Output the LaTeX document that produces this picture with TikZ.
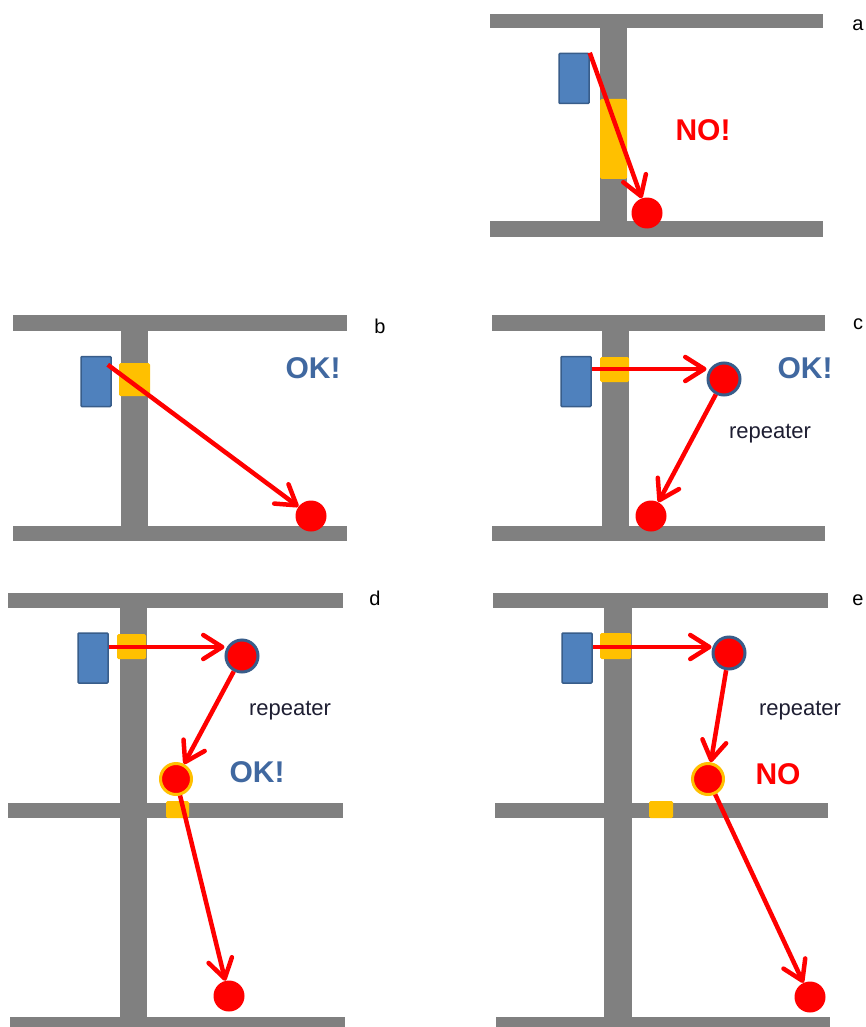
\documentclass[tikz,border=0pt]{standalone}
\usepackage{fontspec}
\setmainfont{Liberation Sans}
\usetikzlibrary{arrows.meta,calc}
\definecolor{wallgray}{RGB}{128,128,128}
\definecolor{patch}{RGB}{255,192,0}
\definecolor{devfill}{RGB}{79,129,189}
\definecolor{devedge}{RGB}{56,93,138}
\definecolor{okblue}{RGB}{64,104,160}
\definecolor{sigred}{RGB}{255,0,0}
\definecolor{reptext}{RGB}{30,30,50}
\begin{document}
\begin{tikzpicture}[x=1pt,y=-1pt,
 wall/.style={fill=wallgray},
 patchbox/.style={fill=patch, rounded corners=1.5pt},
 device/.style={rectangle, draw=devedge, fill=devfill, line width=1.5pt, minimum width=30pt, minimum height=50pt, inner sep=0pt, rounded corners=1pt},
 target/.style={circle, fill=sigred, minimum size=31pt, inner sep=0pt},
 repeaterdot/.style={circle, fill=sigred, draw=devedge, line width=3pt, minimum size=32pt, inner sep=0pt},
 relaydot/.style={circle, fill=sigred, draw=patch, line width=3pt, minimum size=31pt, inner sep=0pt},
 signal/.style={draw=sigred, line width=4.5pt, -{Straight Barb[length=19pt,width=24pt,round]}},
 verdictok/.style={font=\bfseries\fontsize{30}{30}\selectfont, text=okblue},
 verdictno/.style={font=\bfseries\fontsize{30}{30}\selectfont, text=sigred},
 reptag/.style={font=\fontsize{22}{22}\selectfont, text=reptext, anchor=base},
 paneltag/.style={font=\fontsize{20}{20}\selectfont, anchor=base},
]
\useasboundingbox[fill=white] (0,0) rectangle (866,1027);

% ---------- panel a ----------
\fill[wall] (490,14) rectangle (823,28);
\fill[wall] (600,28) rectangle (627,221);
\fill[wall] (490,221) rectangle (823,237);
\fill[patchbox] (600,99) rectangle (627,179);
\node[device] (da) at (574,78.5) {};
\node[target] (ta) at (647,213) {};
\draw[signal] (da.north east) -- (ta);
\node[verdictno] (va) at (703,130) {NO!};
\node[paneltag] (la) at (858,31) {a};

% ---------- panel b ----------
\fill[wall] (13,315) rectangle (347,331);
\fill[wall] (121,331) rectangle (148,526);
\fill[wall] (13,526) rectangle (347,541);
\fill[patchbox] (119,363) rectangle (150,396);
\node[device] (db) at (96,381.5) {};
\node[target] (tb) at (311,516) {};
\coordinate (sb) at ([xshift=-4pt,yshift=-9pt]db.north east);
\draw[signal] (sb) -- (tb);
\node[verdictok] (vb) at (313,368) {OK!};
\node[paneltag] (lb) at (380,333) {b};

% ---------- panel c ----------
\fill[wall] (492,315) rectangle (825,331);
\fill[wall] (602,331) rectangle (629,526);
\fill[wall] (492,526) rectangle (825,541);
\fill[patchbox] (600,357) rectangle (629,382);
\node[device] (dc) at (576,381.5) {};
\node[repeaterdot] (rc) at (724,379) {};
\node[target] (tc) at (651,516) {};
\coordinate (sc) at ([yshift=12.5pt]dc.east);
\draw[signal] (sc) -- (sc -| rc.west);
\draw[signal] (rc) -- (tc);
\node[verdictok] (vc) at (805,368) {OK!};
\node[reptag] (pc) at (770,438) {repeater};
\node[paneltag] (lc) at (858,329) {c};

% ---------- panel d ----------
\fill[wall] (8,593) rectangle (343,608);
\fill[wall] (120,608) rectangle (147,1017);
\fill[wall] (8,803) rectangle (343,818);
\fill[wall] (10,1017) rectangle (345,1027);
\fill[patchbox] (117,634) rectangle (146,659);
\fill[patchbox] (166,801) rectangle (189,818);
\node[device] (dd) at (93,658) {};
\node[repeaterdot] (rd) at (242,656) {};
\node[relaydot] (od) at (176,779) {};
\node[target] (td) at (229,996) {};
\coordinate (sd) at ([yshift=11pt]dd.east);
\draw[signal] (sd) -- (sd -| rd.west);
\draw[signal] (rd) -- (od);
\draw[signal] (od) -- (td);
\node[verdictok] (vd) at (257,772) {OK!};
\node[reptag] (pd) at (290,715) {repeater};
\node[paneltag] (ld) at (375,605) {d};

% ---------- panel e ----------
\fill[wall] (493,593) rectangle (828,608);
\fill[wall] (604,608) rectangle (632,1017);
\fill[wall] (495,803) rectangle (828,818);
\fill[wall] (496,1017) rectangle (830,1027);
\fill[patchbox] (600,633) rectangle (631,659);
\fill[patchbox] (649,801) rectangle (673,818);
\node[device] (de) at (577,658) {};
\node[repeaterdot] (re) at (729,653) {};
\node[relaydot] (oe) at (708,779) {};
\node[target] (te) at (810,997) {};
\coordinate (se) at ([yshift=11pt]de.east);
\draw[signal] (se) -- (se -| re.west);
\draw[signal] (re) -- (oe);
\draw[signal] (oe) -- (te);
\node[verdictno] (ve) at (778,774) {NO};
\node[reptag] (pe) at (800,715) {repeater};
\node[paneltag] (le) at (858,605) {e};
\end{tikzpicture}
\end{document}
